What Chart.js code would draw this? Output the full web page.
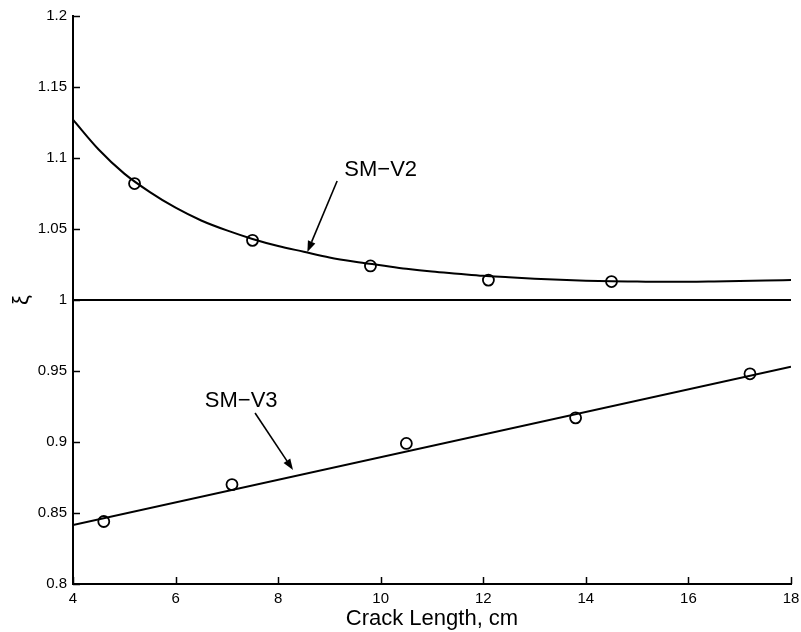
<!DOCTYPE html>
<html>
<head>
<meta charset="utf-8">
<script src="https://cdn.jsdelivr.net/npm/chart.js@4.4.1/dist/chart.umd.min.js"></script>
<style>
  html, body { margin: 0; padding: 0; background: #fff; }
  #wrap { width: 801px; height: 632px; }
</style>
</head>
<body>
<div id="wrap"><canvas id="c" width="801" height="632"></canvas></div>
<script>
// ---- Data ----
const xTicks = [4, 6, 8, 10, 12, 14, 16, 18];
const yTicks = [0.8, 0.85, 0.9, 0.95, 1, 1.05, 1.1, 1.15, 1.2];

// measured points (circles)
const v2X = [5.2, 7.5, 9.8, 12.1, 14.5];
const v2Y = [1.082, 1.042, 1.024, 1.014, 1.013];
const v3X = [4.6, 7.1, 10.5, 13.8, 17.2];
const v3Y = [0.844, 0.870, 0.899, 0.917, 0.948];

// fitted curve SM-V2
const fitV2X = [4, 4.5, 5, 5.5, 6, 6.5, 7, 7.5, 8, 8.5, 9, 9.5, 10, 10.5, 11, 11.5, 12, 12.5, 13, 13.5, 14, 14.5, 15, 15.5, 16, 16.5, 17, 17.5, 18];
const fitV2Y = [1.127, 1.106, 1.089, 1.076, 1.065, 1.056, 1.049, 1.043, 1.038, 1.034, 1.030, 1.027, 1.0245, 1.022, 1.020, 1.0185, 1.017, 1.016, 1.015, 1.0142, 1.0136, 1.0132, 1.013, 1.0128, 1.0128, 1.013, 1.0133, 1.0137, 1.014];

// fitted line SM-V3
const fitV3X = [4, 18];
const fitV3Y = [0.8415, 0.953];

// reference line at 1
const refX = [4, 18];
const refY = [1, 1];

// annotations
const labelTexts = ['SM\u2212V2', 'SM\u2212V3'];
const labelX = [10.0, 7.28];
const labelY = [1.0915, 0.929];
const arrowFromX = [9.15, 7.55];
const arrowFromY = [1.0838, 0.9204];
const arrowToX = [8.57, 8.29];
const arrowToY = [1.0338, 0.8803];

const xTitle = 'Crack Length, cm';
const yTitle = '\u03BE';

// ---- helpers ----
const pts = (xs, ys) => xs.map((x, i) => ({ x: x, y: ys[i] }));
const FONT = "'Liberation Sans', Arial, Helvetica, sans-serif";

const inwardTicks = {
  id: 'inwardTicks',
  afterDraw(chart) {
    const ctx = chart.ctx;
    const xs = chart.scales.x, ys = chart.scales.y;
    const area = chart.chartArea;
    ctx.save();
    ctx.strokeStyle = '#000';
    ctx.lineWidth = 1.5;
    const len = 7;
    xTicks.forEach(v => {
      const px = Math.round(xs.getPixelForValue(v)) + 0.5;
      ctx.beginPath();
      ctx.moveTo(px, area.bottom);
      ctx.lineTo(px, area.bottom - len);
      ctx.stroke();
    });
    yTicks.forEach(v => {
      const py = Math.round(ys.getPixelForValue(v)) + 0.5;
      ctx.beginPath();
      ctx.moveTo(area.left, py);
      ctx.lineTo(area.left + len, py);
      ctx.stroke();
    });

    // arrows
    ctx.lineWidth = 1.6;
    ctx.fillStyle = '#000';
    for (let i = 0; i < arrowFromX.length; i++) {
      const x1 = xs.getPixelForValue(arrowFromX[i]);
      const y1 = ys.getPixelForValue(arrowFromY[i]);
      const x2 = xs.getPixelForValue(arrowToX[i]);
      const y2 = ys.getPixelForValue(arrowToY[i]);
      const ang = Math.atan2(y2 - y1, x2 - x1);
      const hl = 11, hw = 4;
      const bx = x2 - hl * Math.cos(ang), by = y2 - hl * Math.sin(ang);
      ctx.beginPath();
      ctx.moveTo(x1, y1);
      ctx.lineTo(bx, by);
      ctx.stroke();
      ctx.beginPath();
      ctx.moveTo(x2, y2);
      ctx.lineTo(bx + hw * Math.sin(ang), by - hw * Math.cos(ang));
      ctx.lineTo(bx - hw * Math.sin(ang), by + hw * Math.cos(ang));
      ctx.closePath();
      ctx.fill();
    }

    // labels
    ctx.font = '22px ' + FONT;
    ctx.textAlign = 'center';
    ctx.textBaseline = 'middle';
    for (let i = 0; i < labelTexts.length; i++) {
      ctx.fillText(labelTexts[i], xs.getPixelForValue(labelX[i]), ys.getPixelForValue(labelY[i]));
    }
    ctx.restore();
  }
};

const lineStyle = {
  showLine: true, borderColor: '#000', borderWidth: 2, pointRadius: 0, fill: false
};
const pointStyle = {
  showLine: false, pointStyle: 'circle', pointRadius: 5.5, pointBorderWidth: 1.8,
  pointBorderColor: '#000', pointBackgroundColor: '#fff'
};

new Chart(document.getElementById('c'), {
  type: 'scatter',
  data: {
    datasets: [
      Object.assign({ label: 'ref', data: pts(refX, refY) }, lineStyle),
      Object.assign({ label: 'SM-V2 fit', data: pts(fitV2X, fitV2Y), cubicInterpolationMode: 'monotone' }, lineStyle),
      Object.assign({ label: 'SM-V3 fit', data: pts(fitV3X, fitV3Y) }, lineStyle),
      Object.assign({ label: 'SM-V2', data: pts(v2X, v2Y) }, pointStyle),
      Object.assign({ label: 'SM-V3', data: pts(v3X, v3Y) }, pointStyle)
    ]
  },
  options: {
    responsive: false,
    devicePixelRatio: 1,
    animation: false,
    layout: { padding: { top: 16, right: 10, left: 0, bottom: 0 } },
    plugins: { legend: { display: false }, tooltip: { enabled: false } },
    scales: {
      x: {
        type: 'linear', min: 4, max: 18,
        afterFit: s => { s.height = 48; s.paddingRight = 0; s.paddingLeft = 0; },
        afterBuildTicks: s => { s.ticks = xTicks.map(v => ({ value: v })); },
        grid: { display: false, drawTicks: false },
        border: { display: true, color: '#000', width: 2 },
        ticks: { color: '#000', padding: 6, maxRotation: 0, autoSkip: false,
                 font: { family: FONT, size: 15 }, callback: v => String(v) },
        title: { display: true, text: xTitle, color: '#000',
                 font: { family: FONT, size: 22 }, padding: { top: 0, bottom: 0 } }
      },
      y: {
        type: 'linear', min: 0.8, max: 1.2,
        afterFit: s => { s.width = 73; s.paddingTop = 0; s.paddingBottom = 0; },
        afterBuildTicks: s => { s.ticks = yTicks.map(v => ({ value: v })); },
        grid: { display: false, drawTicks: false },
        border: { display: true, color: '#000', width: 2 },
        ticks: { color: '#000', padding: 6, autoSkip: false,
                 font: { family: FONT, size: 15 },
                 callback: v => String(parseFloat(Number(v).toFixed(2))) },
        title: { display: true, text: yTitle, color: '#000',
                 font: { family: FONT, size: 22 }, padding: { top: 9, bottom: 0 } }
      }
    }
  },
  plugins: [inwardTicks]
});
</script>
</body>
</html>
